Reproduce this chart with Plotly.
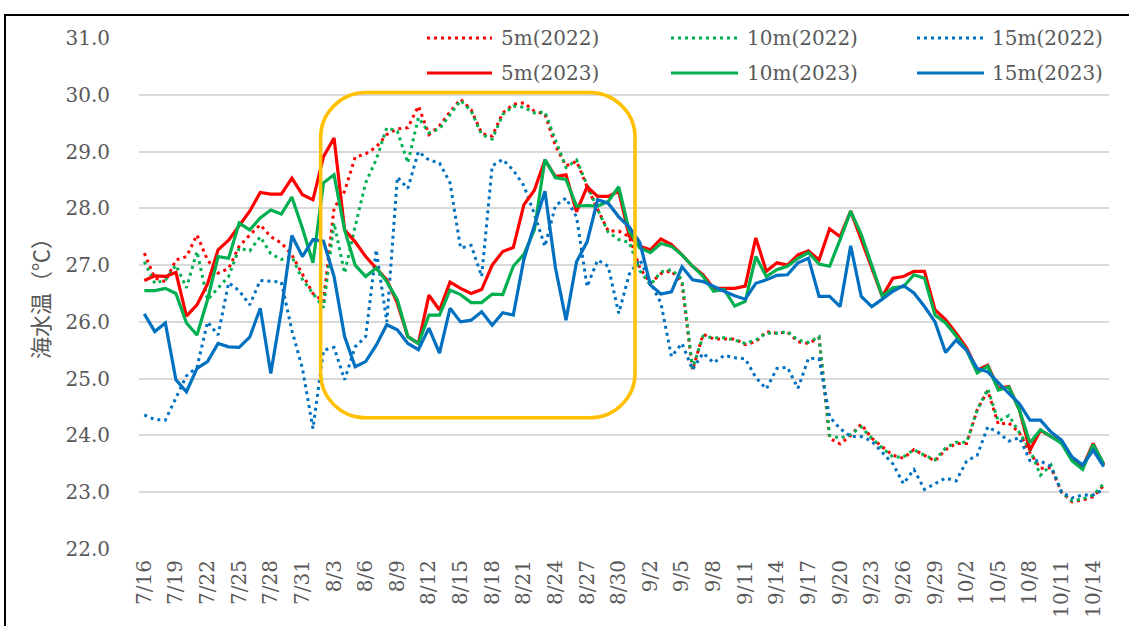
import datetime as dt
import plotly.graph_objects as go

# ---- canvas / plot-area geometry (pixels) ----
W, H = 1129, 626
M_L, M_R, M_T, M_B = 139, 20, 38, 77

# ---- categories: daily observations 7/16 .. 10/15 ----
start_day = dt.date(2023, 7, 16)
n_days = 92
day_labels = [f"{(start_day + dt.timedelta(days=k)).month}/{(start_day + dt.timedelta(days=k)).day}"
              for k in range(n_days)]
day_index = list(range(n_days))
tick_index = day_index[::3]
tick_text = [day_labels[k] for k in tick_index]

# ---- sea water temperature (deg C) ----
t5_2022 = [27.21, 26.77, 26.71, 27.09, 27.15, 27.53, 27.09, 26.86, 26.94, 27.33,
           27.53, 27.71, 27.50, 27.39, 27.18, 26.83, 26.50, 26.36, 28.00, 28.30,
           28.90, 28.96, 29.08, 29.30, 29.40, 29.42, 29.80, 29.30, 29.45, 29.70,
           29.92, 29.74, 29.32, 29.27, 29.68, 29.83, 29.86, 29.71, 29.66, 29.10,
           28.75, 28.83, 28.38, 27.98, 27.60, 27.60, 27.50, 26.95, 26.68, 26.85,
           26.90, 26.68, 25.15, 25.78, 25.70, 25.70, 25.70, 25.60, 25.65, 25.83,
           25.80, 25.82, 25.65, 25.62, 25.72, 23.95, 23.85, 24.00, 24.20, 23.95,
           23.80, 23.65, 23.60, 23.75, 23.65, 23.55, 23.75, 23.86, 23.86, 24.45,
           24.79, 24.20, 24.22, 24.05, 23.70, 23.42, 23.43, 23.00, 22.83, 22.86,
           22.92, 23.12]

t10_2022 = [27.06, 26.68, 26.74, 27.00, 26.60, 27.24, 26.39, 26.60, 26.80, 27.30,
            27.25, 27.50, 27.20, 27.10, 27.15, 26.75, 26.50, 26.25, 27.74, 26.86,
            27.68, 28.45, 28.86, 29.42, 29.36, 28.80, 29.60, 29.33, 29.40, 29.65,
            29.90, 29.72, 29.30, 29.22, 29.65, 29.80, 29.78, 29.68, 29.70, 29.20,
            28.72, 28.85, 28.40, 27.98, 27.58, 27.45, 27.40, 26.90, 26.65, 26.88,
            26.92, 26.75, 25.18, 25.75, 25.72, 25.72, 25.68, 25.62, 25.68, 25.80,
            25.80, 25.83, 25.68, 25.64, 25.74, 24.00, 23.95, 24.02, 24.15, 23.95,
            23.78, 23.62, 23.62, 23.75, 23.65, 23.57, 23.78, 23.88, 23.88, 24.45,
            24.82, 24.25, 24.35, 24.05, 23.75, 23.30, 23.48, 23.00, 22.85, 22.88,
            22.95, 23.15]

t15_2022 = [24.36, 24.28, 24.27, 24.65, 25.05, 25.20, 26.00, 25.77, 26.69, 26.55,
            26.30, 26.73, 26.72, 26.70, 25.85, 25.18, 24.12, 25.50, 25.55, 24.98,
            25.56, 25.74, 27.27, 26.00, 28.55, 28.35, 29.00, 28.85, 28.80, 28.45,
            27.30, 27.35, 26.80, 28.75, 28.86, 28.67, 28.40, 27.90, 27.33, 28.05,
            28.18, 27.85, 26.62, 27.09, 26.98, 26.15, 26.84, 27.10, 26.70, 26.33,
            25.39, 25.62, 25.16, 25.45, 25.28, 25.41, 25.37, 25.35, 25.02, 24.82,
            25.18, 25.20, 24.83, 25.36, 25.35, 24.33, 24.12, 23.98, 23.98, 23.90,
            23.70, 23.50, 23.15, 23.40, 23.05, 23.15, 23.25, 23.20, 23.55, 23.65,
            24.15, 24.05, 23.90, 23.96, 23.56, 23.55, 23.45, 23.00, 22.90, 22.95,
            22.95, 23.05]

t5_2023 = [26.73, 26.81, 26.80, 26.87, 26.10, 26.30, 26.67, 27.27, 27.44, 27.70,
           27.95, 28.28, 28.25, 28.25, 28.53, 28.24, 28.15, 28.91, 29.24, 27.62,
           27.41, 27.15, 26.95, 26.74, 26.33, 25.74, 25.62, 26.47, 26.21, 26.70,
           26.59, 26.50, 26.57, 27.00, 27.24, 27.31, 28.06, 28.32, 28.85, 28.56,
           28.59, 27.94, 28.38, 28.21, 28.21, 28.30, 27.51, 27.33, 27.27, 27.46,
           27.36, 27.18, 26.98, 26.83, 26.59, 26.59, 26.59, 26.63, 27.48, 26.89,
           27.04, 27.00, 27.18, 27.25, 27.09, 27.64, 27.50, 27.95, 27.45, 26.98,
           26.45, 26.77, 26.80, 26.89, 26.89, 26.21, 26.04, 25.80, 25.54, 25.15,
           25.24, 24.83, 24.86, 24.45, 23.74, 24.09, 23.98, 23.89, 23.59, 23.44,
           23.86, 23.48]

t10_2023 = [26.55, 26.55, 26.59, 26.50, 25.98, 25.77, 26.39, 27.15, 27.12, 27.74,
            27.62, 27.83, 27.97, 27.90, 28.20, 27.65, 27.04, 28.45, 28.59, 27.62,
            27.00, 26.80, 26.95, 26.71, 26.39, 25.74, 25.62, 26.12, 26.12, 26.56,
            26.48, 26.34, 26.34, 26.49, 26.48, 26.98, 27.19, 27.62, 28.86, 28.54,
            28.51, 28.04, 28.05, 28.04, 28.12, 28.38, 27.60, 27.30, 27.22, 27.38,
            27.33, 27.18, 26.98, 26.80, 26.54, 26.57, 26.28, 26.36, 27.15, 26.80,
            26.92, 26.98, 27.12, 27.22, 27.02, 26.98, 27.45, 27.95, 27.54, 27.00,
            26.45, 26.60, 26.62, 26.83, 26.77, 26.12, 25.98, 25.75, 25.50, 25.10,
            25.22, 24.80, 24.85, 24.45, 23.87, 24.10, 23.98, 23.86, 23.55, 23.40,
            23.84, 23.50]

t15_2023 = [26.14, 25.83, 25.98, 24.98, 24.77, 25.18, 25.30, 25.62, 25.56, 25.55,
            25.73, 26.24, 25.09, 26.20, 27.52, 27.15, 27.45, 27.42, 26.80, 25.74,
            25.21, 25.30, 25.59, 25.95, 25.86, 25.62, 25.51, 25.89, 25.45, 26.24,
            26.00, 26.03, 26.18, 25.94, 26.16, 26.12, 27.10, 27.68, 28.30, 26.95,
            26.03, 27.06, 27.41, 28.15, 28.09, 27.85, 27.67, 27.40, 26.65, 26.49,
            26.53, 26.97, 26.74, 26.71, 26.62, 26.54, 26.46, 26.40, 26.68, 26.74,
            26.82, 26.83, 27.04, 27.12, 26.45, 26.45, 26.27, 27.34, 26.45, 26.27,
            26.40, 26.54, 26.64, 26.51, 26.27, 26.00, 25.46, 25.68, 25.50, 25.18,
            25.12, 24.92, 24.74, 24.56, 24.27, 24.27, 24.06, 23.92, 23.62, 23.48,
            23.74, 23.45]

RED, GREEN, BLUE = "#FF0000", "#00B050", "#0070C0"
DOT = "3px,4px"

series = [
    ("5m(2022)", t5_2022, RED, DOT),
    ("10m(2022)", t10_2022, GREEN, DOT),
    ("15m(2022)", t15_2022, BLUE, DOT),
    ("5m(2023)", t5_2023, RED, "solid"),
    ("10m(2023)", t10_2023, GREEN, "solid"),
    ("15m(2023)", t15_2023, BLUE, "solid"),
]

TEXT_GRAY = "#595959"
SERIF = "DejaVu Serif"

fig = go.Figure()
for name, vals, color, dash in series:
    fig.add_trace(go.Scatter(
        x=day_index, y=vals, name=name, mode="lines",
        line=dict(color=color, width=3.2 if dash == "solid" else 3, dash=dash),
        showlegend=False,
    ))


def paper_x(px):
    return (px - M_L) / (W - M_L - M_R)


def paper_y(py):
    return 1 - (py - M_T) / (H - M_T - M_B)


shapes = []
annotations = []

# legend: two rows of three entries
legend_rows_y = [38, 73]
legend_cols = [(427, 492, 499), (671, 738, 745), (917, 984, 990)]
for k, (name, vals, color, dash) in enumerate(series):
    row, col = divmod(k, 3)
    x0, x1, xt = legend_cols[col]
    yy = paper_y(legend_rows_y[row])
    shapes.append(dict(type="line", xref="paper", yref="paper",
                       x0=paper_x(x0), x1=paper_x(x1), y0=yy, y1=yy,
                       line=dict(color=color, width=3.2 if dash == "solid" else 3, dash=dash)))
    annotations.append(dict(xref="paper", yref="paper", x=paper_x(xt), y=yy,
                            text=name, showarrow=False, xanchor="left", yanchor="middle",
                            font=dict(family=SERIF, size=20, color=TEXT_GRAY)))

# highlighted period (rounded box)
bx0, bx1, by0, by1 = 16.73, 46.55, 24.31, 30.04
rx, ry = 4.3, 0.79
k = 0.5523
path = (
    f"M {bx0 + rx},{by1} L {bx1 - rx},{by1} "
    f"C {bx1 - rx + k * rx},{by1} {bx1},{by1 - ry + k * ry} {bx1},{by1 - ry} "
    f"L {bx1},{by0 + ry} "
    f"C {bx1},{by0 + ry - k * ry} {bx1 - rx + k * rx},{by0} {bx1 - rx},{by0} "
    f"L {bx0 + rx},{by0} "
    f"C {bx0 + rx - k * rx},{by0} {bx0},{by0 + ry - k * ry} {bx0},{by0 + ry} "
    f"L {bx0},{by1 - ry} "
    f"C {bx0},{by1 - ry + k * ry} {bx0 + rx - k * rx},{by1} {bx0 + rx},{by1} Z"
)
shapes.append(dict(type="path", xref="x", yref="y", path=path,
                   line=dict(color="#FFC000", width=3.5), fillcolor="rgba(0,0,0,0)"))

# outer frame
shapes.append(dict(type="rect", xref="paper", yref="paper",
                   x0=paper_x(5), x1=paper_x(W + 20), y0=paper_y(H + 20), y1=paper_y(15),
                   line=dict(color="#000000", width=2), fillcolor="rgba(0,0,0,0)", layer="below"))

# y-axis title
annotations.append(dict(xref="paper", yref="paper", x=paper_x(39), y=paper_y(293),
                        text="海水温（℃）", textangle=-90, showarrow=False,
                        xanchor="center", yanchor="middle",
                        font=dict(family="Noto Sans CJK JP", size=22, color=TEXT_GRAY)))

fig.update_layout(
    width=W, height=H,
    margin=dict(l=M_L, r=M_R, t=M_T, b=M_B, autoexpand=False),
    paper_bgcolor="white", plot_bgcolor="white",
    shapes=shapes, annotations=annotations,
    showlegend=False,
)
fig.update_xaxes(
    range=[-0.5, n_days - 0.5], tickmode="array", tickvals=tick_index, ticktext=tick_text,
    tickangle=-90, showgrid=False, zeroline=False, showline=False, ticks="",
    tickfont=dict(family=SERIF, size=20, color=TEXT_GRAY), ticklabelstandoff=6,
)
fig.update_yaxes(
    range=[22, 31], dtick=1, tickformat=".1f", showgrid=True, gridcolor="#D9D9D9",
    gridwidth=1.5, zeroline=False, showline=False, ticks="",
    tickfont=dict(family=SERIF, size=20, color=TEXT_GRAY), ticklabelstandoff=28,
)

fig.write_html("out.html")
